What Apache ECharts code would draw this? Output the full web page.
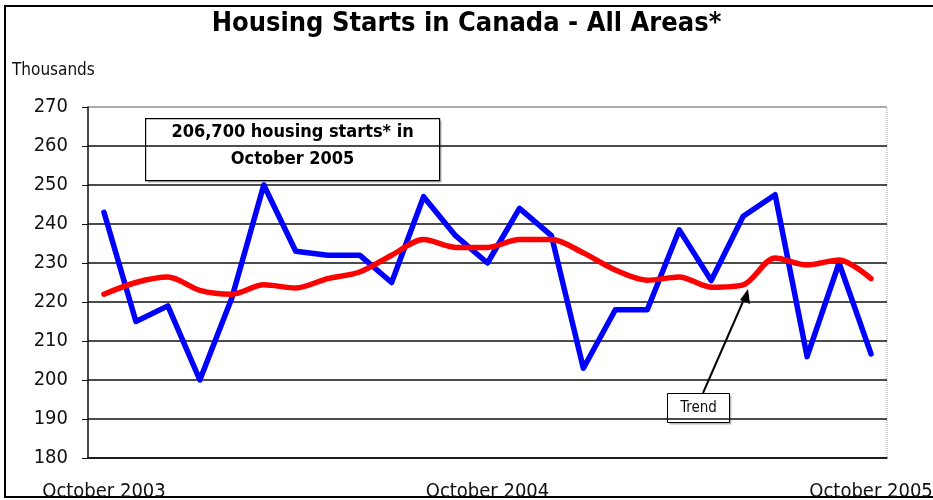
<!DOCTYPE html>
<html>
<head>
<meta charset="utf-8">
<script src="https://cdn.jsdelivr.net/npm/echarts@6/dist/echarts.min.js"></script>
<style>
  html, body { margin: 0; padding: 0; background: #fff; }
  #chart { width: 933px; height: 500px; }
</style>
</head>
<body>
<div id="chart"></div>
<script>
// monthly, October 2003 .. October 2005
var months = [
  'Oct 2003', 'Nov 2003', 'Dec 2003', 'Jan 2004', 'Feb 2004', 'Mar 2004', 'Apr 2004',
  'May 2004', 'Jun 2004', 'Jul 2004', 'Aug 2004', 'Sep 2004', 'Oct 2004', 'Nov 2004',
  'Dec 2004', 'Jan 2005', 'Feb 2005', 'Mar 2005', 'Apr 2005', 'May 2005', 'Jun 2005',
  'Jul 2005', 'Aug 2005', 'Sep 2005', 'Oct 2005'
];
// housing starts, thousands (SAAR)
var starts = [243, 215, 219, 200, 221, 250, 233, 232, 232, 225, 247, 237, 230,
  244, 237, 203, 218, 218, 238.5, 225.5, 242, 247.5, 206, 230, 206.7];
var trend = [222, 225, 226.4, 223, 222, 224.4, 223.6, 226, 227.7, 232, 236, 234, 234,
  236, 236, 232.6, 228.2, 225.6, 226.4, 223.8, 224.4, 231.3, 229.5, 230.8, 226];
var yTicks = [180, 190, 200, 210, 220, 230, 240, 250, 260, 270];
var xLabels = { 'Oct 2003': 'October 2003', 'Oct 2004': 'October 2004', 'Oct 2005': 'October 2005' };

var font = "'DejaVu Sans Condensed', sans-serif";
var chart = echarts.init(document.getElementById('chart'));

// top split line is a dotted grey border, the rest solid black
var splitColors = yTicks.map(function (v) { return v === 270 ? '#999' : '#111'; });

chart.setOption({
  animation: false,
  backgroundColor: '#fff',
  title: {
    text: 'Housing Starts in Canada - All Areas*',
    left: 'center',
    top: 5,
    textStyle: { fontFamily: font, fontSize: 27, fontWeight: 'bold', color: '#000' }
  },
  grid: {
    left: 88, right: 46, top: 107, bottom: 42,
    outerBoundsMode: 'none',
    show: true, borderColor: '#999', borderWidth: 1, borderType: 'dotted'
  },
  xAxis: {
    type: 'category',
    data: months,
    boundaryGap: true,
    axisLine: { lineStyle: { color: '#111', width: 1.5 } },
    axisTick: { interval: 11, length: 6, lineStyle: { color: '#111' } },
    axisLabel: {
      interval: 11,
      margin: 24,
      fontFamily: font,
      fontSize: 20,
      color: '#111',
      formatter: function (v) { return xLabels[v] || ''; }
    }
  },
  yAxis: {
    type: 'value',
    min: yTicks[0],
    max: yTicks[yTicks.length - 1],
    interval: 10,
    name: 'Thousands',
    nameLocation: 'end',
    nameGap: 28,
    nameTextStyle: { fontFamily: font, fontSize: 17, color: '#111', align: 'left', padding: [0, 0, 0, -76] },
    axisLine: { show: true, lineStyle: { color: '#111', width: 1.5 } },
    axisTick: { show: true, length: 6, lineStyle: { color: '#111' } },
    axisLabel: { margin: 20, fontFamily: font, fontSize: 20, color: '#111' },
    splitLine: { show: true, lineStyle: { color: splitColors, width: 1.5 } }
  },
  series: [
    {
      name: 'Housing starts',
      type: 'line',
      data: starts,
      symbol: 'none',
      z: 3,
      lineStyle: { color: '#0000ff', width: 5.5, join: 'round', cap: 'round' }
    },
    {
      name: 'Trend',
      type: 'line',
      data: trend,
      symbol: 'none',
      smooth: 0.3,
      z: 4,
      lineStyle: { color: '#ff0000', width: 5.5, join: 'round', cap: 'round' }
    }
  ],
  graphic: [
    {
      type: 'rect',
      shape: { x: 5, y: 6, width: 960, height: 491 },
      style: { fill: 'none', stroke: '#000', lineWidth: 2 },
      silent: true
    },
    {
      type: 'group',
      left: 145, top: 118,
      children: [
        { type: 'rect', shape: { x: 2, y: 2, width: 294, height: 62 }, style: { fill: '#bbb' } },
        { type: 'rect', shape: { x: 0, y: 0, width: 294, height: 62 }, style: { fill: '#fff', stroke: '#000', lineWidth: 1.2 } },
        {
          type: 'text', x: 147, y: 27,
          style: {
            text: '206,700 housing starts* in\nOctober 2005',
            align: 'center', verticalAlign: 'middle',
            font: 'bold 18px ' + font, lineHeight: 27, fill: '#000'
          }
        }
      ]
    },
    {
      type: 'line',
      shape: { x1: 703, y1: 393, x2: 745, y2: 297 },
      style: { stroke: '#000', lineWidth: 2 }
    },
    {
      type: 'polygon',
      shape: { points: [[748, 289], [740, 300], [750, 304]] },
      style: { fill: '#000' }
    },
    {
      type: 'group',
      left: 667, top: 393,
      children: [
        { type: 'rect', shape: { x: 2, y: 2, width: 62, height: 29 }, style: { fill: '#bbb' } },
        { type: 'rect', shape: { x: 0, y: 0, width: 62, height: 29 }, style: { fill: '#fff', stroke: '#000', lineWidth: 1 } },
        {
          type: 'text', x: 31, y: 15,
          style: { text: 'Trend', align: 'center', verticalAlign: 'middle', font: '15px ' + font, fill: '#111' }
        }
      ]
    }
  ]
});
</script>
</body>
</html>
